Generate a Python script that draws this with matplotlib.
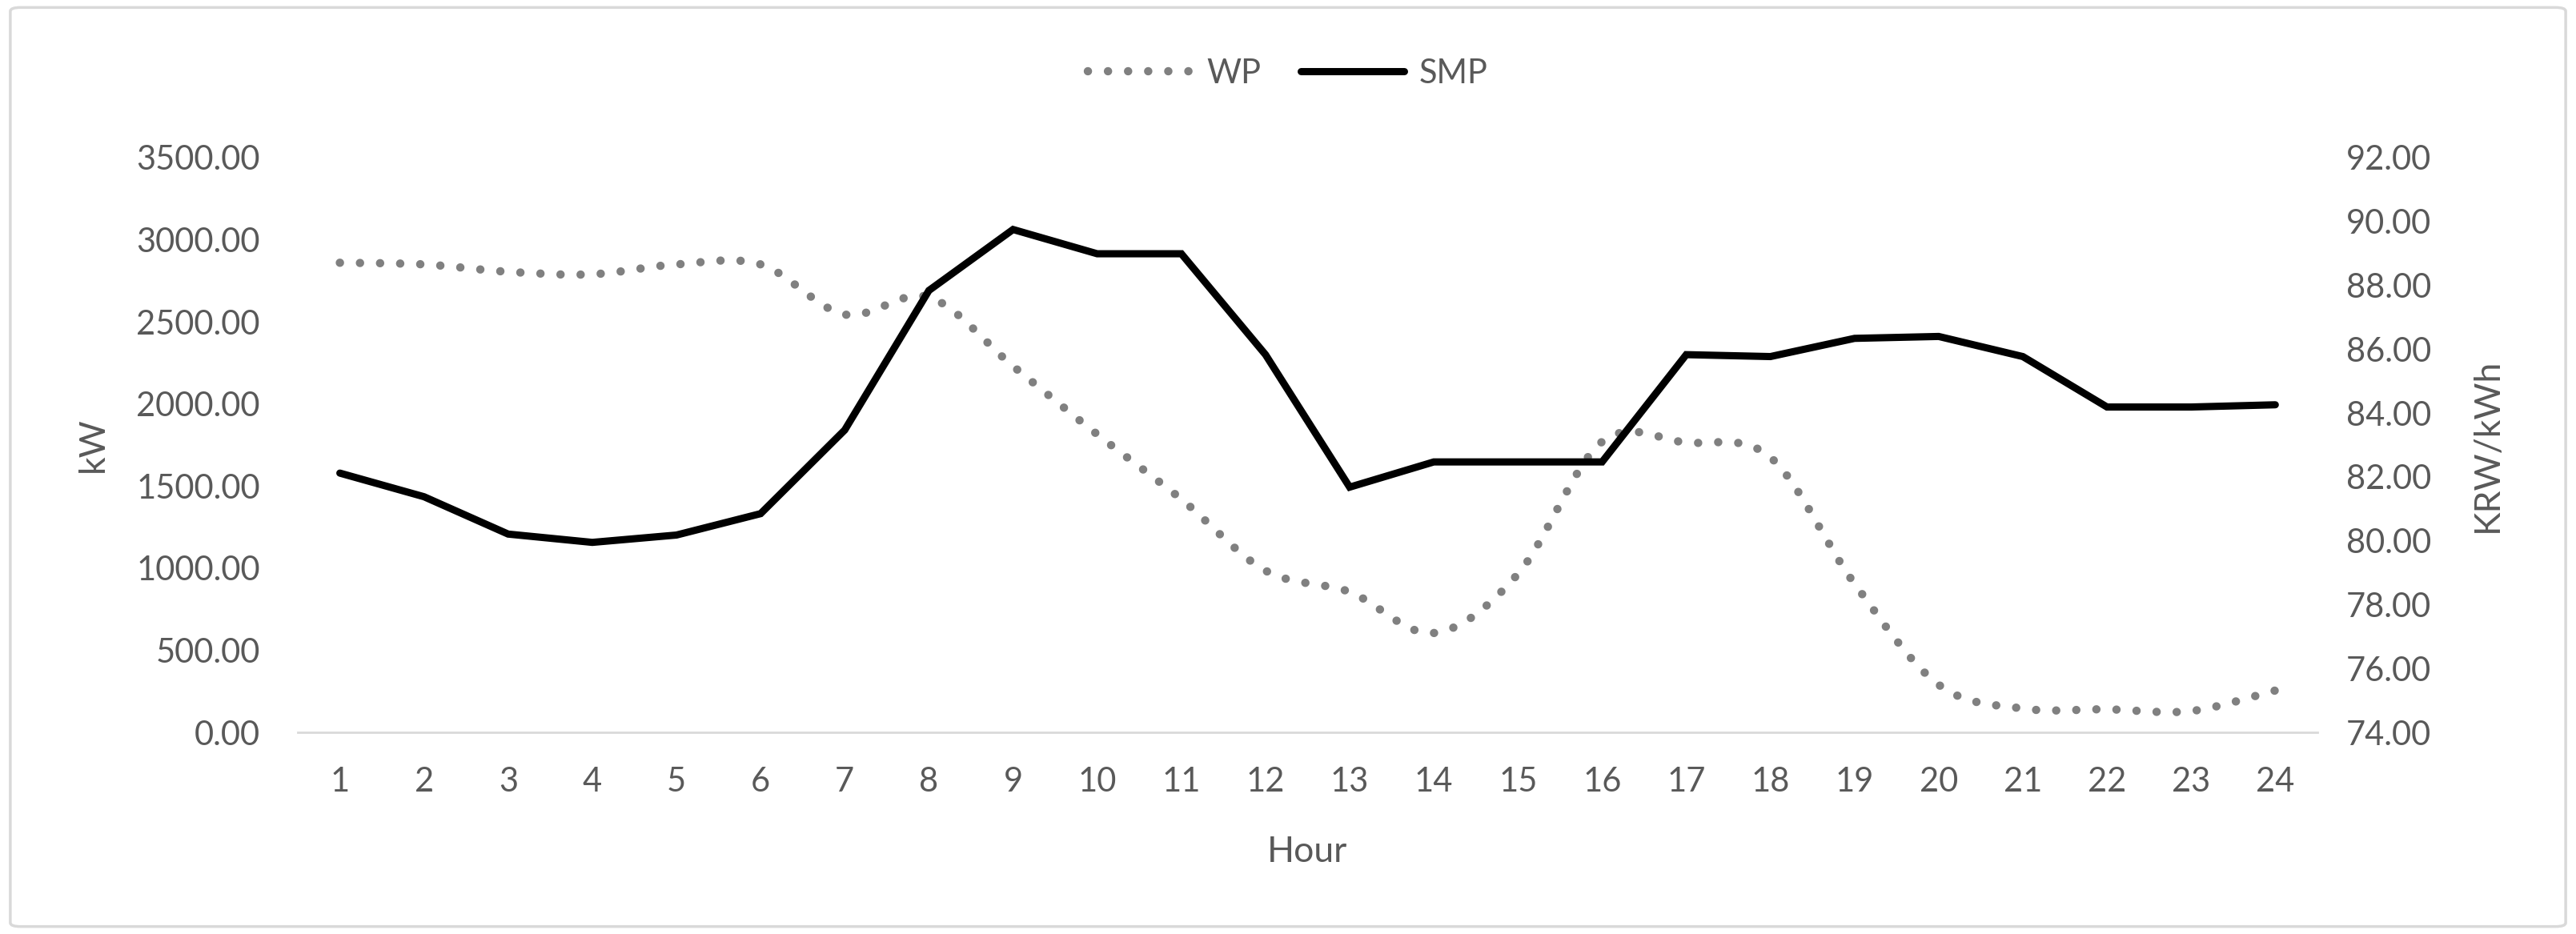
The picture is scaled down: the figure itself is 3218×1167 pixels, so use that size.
import matplotlib
matplotlib.use("Agg")
import matplotlib.pyplot as plt
import numpy as np
from matplotlib.lines import Line2D
from matplotlib.patches import FancyBboxPatch, PathPatch
from matplotlib.path import Path


hours = list(range(1, 25))
wp_kw = [2860, 2850, 2805, 2790, 2850, 2850, 2545, 2650, 2230, 1815,
         1420, 985, 855, 605, 965, 1770, 1765, 1675, 905, 290,
         145, 140, 130, 255]
smp_krw = [82.12, 81.38, 80.21, 79.95, 80.18, 80.85, 83.47, 87.84, 89.75, 88.99,
           88.99, 85.83, 81.68, 82.47, 82.47, 82.47, 85.83, 85.77, 86.34, 86.40,
           85.77, 84.19, 84.19, 84.26]

kw_ticks = np.arange(0, 3501, 500)
krw_ticks = np.arange(74, 92.1, 2)

TEXT_GREY = "#595959"
AXIS_GREY = "#d9d9d9"
WP_GREY = "#808080"
FONT = "Lato"
FS = 30


def smooth_path(x, y):
    # Excel "smoothed line": cubic Bezier segments through every point
    x = np.asarray(x, dtype=float)
    y = np.asarray(y, dtype=float)
    n = len(x)
    verts = [(x[0], y[0])]
    codes = [Path.MOVETO]
    for i in range(n - 1):
        xa, ya = (x[i - 1], y[i - 1]) if i > 0 else (x[i], y[i])
        xd, yd = (x[i + 2], y[i + 2]) if i + 2 < n else (x[i + 1], y[i + 1])
        c1 = (x[i] + (x[i + 1] - xa) / 6, y[i] + (y[i + 1] - ya) / 6)
        c2 = (x[i + 1] - (xd - x[i]) / 6, y[i + 1] - (yd - y[i]) / 6)
        verts += [c1, c2, (x[i + 1], y[i + 1])]
        codes += [Path.CURVE4] * 3
    return Path(verts, codes)


fig = plt.figure(figsize=(32.18, 11.67), dpi=100)
fig.patch.set_facecolor("white")
fig.patches.append(
    FancyBboxPatch((0.004, 0.008), 0.992, 0.984, boxstyle="round,pad=0,rounding_size=0.004",
                   transform=fig.transFigure, facecolor="none", edgecolor=AXIS_GREY, linewidth=2.5)
)

ax = fig.add_axes([0.1156, 0.2159, 0.7840, 0.6153])
ax2 = ax.twinx()

dot_style = (0, (0.01, 2.4))
wp_patch = PathPatch(smooth_path(hours, wp_kw), facecolor="none", edgecolor=WP_GREY,
                     linewidth=7.5, linestyle=dot_style, capstyle="round", transform=ax.transData)
ax.add_patch(wp_patch)
ax2.plot(hours, smp_krw, color="black", linewidth=6.5, solid_capstyle="round", solid_joinstyle="miter")

ax.set_xlim(0.5, 24.5)
ax.set_ylim(0, 3500)
ax2.set_ylim(74, 92)
ax.set_xticks(hours)
ax.set_xticklabels([str(h) for h in hours])
ax.set_yticks(kw_ticks)
ax.set_yticklabels([f"{v:.2f}" for v in kw_ticks])
ax2.set_yticks(krw_ticks)
ax2.set_yticklabels([f"{v:.2f}" for v in krw_ticks])

for axis in (ax, ax2):
    for side in ("top", "left", "right", "bottom"):
        axis.spines[side].set_visible(False)
ax.spines["bottom"].set_visible(True)
ax.spines["bottom"].set_color(AXIS_GREY)
ax.spines["bottom"].set_linewidth(2)

ax.tick_params(axis="x", length=0, pad=31, labelsize=FS, labelcolor=TEXT_GREY)
ax.tick_params(axis="y", length=0, pad=34, labelsize=FS, labelcolor=TEXT_GREY)
ax2.tick_params(axis="y", length=0, pad=26, labelsize=FS, labelcolor=TEXT_GREY)
for label in ax.get_xticklabels() + ax.get_yticklabels() + ax2.get_yticklabels():
    label.set_fontfamily(FONT)

ax.set_xlabel("Hour", fontsize=FS + 2, color=TEXT_GREY, fontfamily=FONT)
ax.set_ylabel("kW", fontsize=FS + 2, color=TEXT_GREY, fontfamily=FONT)
ax2.set_ylabel("KRW/kWh", fontsize=FS + 2, color=TEXT_GREY, fontfamily=FONT)
ax.xaxis.set_label_coords(0.5, -0.18)
ax.yaxis.set_label_coords(-0.093, 0.5)
ax2.yaxis.set_label_coords(1.076, 0.5)

handles = [
    Line2D([], [], color=WP_GREY, linewidth=7.5, linestyle=dot_style, dash_capstyle="round"),
    Line2D([], [], color="black", linewidth=6.5, solid_capstyle="round"),
]
legend = fig.legend(handles, ["WP", "SMP"], loc="center", bbox_to_anchor=(0.5, 1 - 92 / 1167),
                    ncol=2, frameon=False, handlelength=3.1, handletextpad=0.45, columnspacing=1.2,
                    prop={"family": FONT, "size": FS})
for text in legend.get_texts():
    text.set_color(TEXT_GREY)

fig.savefig("out.png", dpi=100)
